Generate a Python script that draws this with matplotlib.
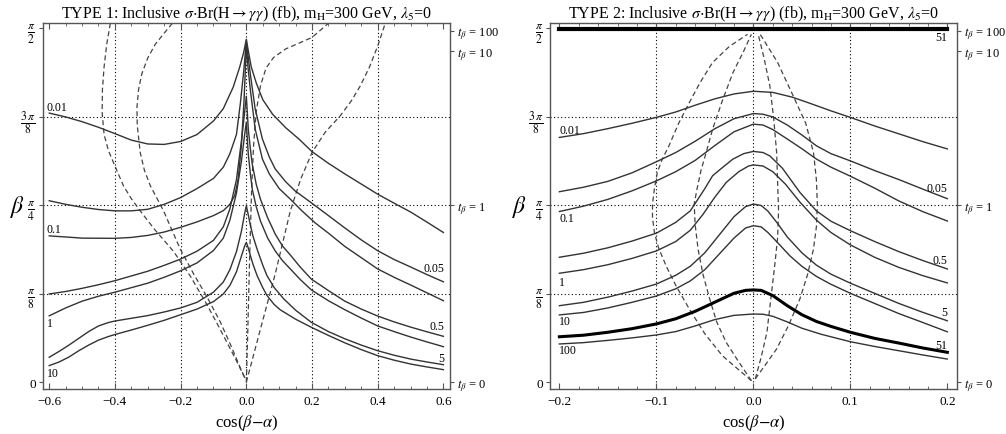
import numpy as np
import matplotlib
matplotlib.use("Agg")
import matplotlib.pyplot as plt

plt.rcParams['font.family'] = ['Liberation Serif', 'DejaVu Serif']
plt.rcParams['mathtext.fontset'] = 'stix'

# ---------------- TYPE 1 panel: contours of sigma*Br, x = cos(b-a), y = beta
t1_001_x = [-0.6, -0.55, -0.5, -0.45, -0.4, -0.35, -0.3, -0.25, -0.2, -0.15, -0.1, -0.07, -0.04, -0.02, -0.008, 0.0,
            0.005, 0.015, 0.03, 0.05, 0.08, 0.12, 0.16, 0.2, 0.25, 0.3, 0.35, 0.4, 0.45, 0.5, 0.55, 0.6]
t1_001_y = [1.195, 1.178, 1.157, 1.132, 1.104, 1.075, 1.058, 1.056, 1.069, 1.100, 1.160, 1.215, 1.310, 1.400, 1.465, 1.523,
            1.480, 1.400, 1.330, 1.255, 1.190, 1.130, 1.080, 1.024, 0.972, 0.925, 0.880, 0.835, 0.795, 0.756, 0.711, 0.665]
t1_005_x = [-0.6, -0.55, -0.5, -0.45, -0.4, -0.35, -0.3, -0.25, -0.2, -0.15, -0.1, -0.07, -0.05, -0.03, -0.018, -0.008, 0.0,
            0.006, 0.012, 0.027, 0.049, 0.07, 0.088, 0.12, 0.149, 0.195, 0.25, 0.3, 0.35, 0.4, 0.45, 0.5, 0.55, 0.6]
t1_005_y = [0.806, 0.790, 0.777, 0.767, 0.761, 0.761, 0.768, 0.790, 0.820, 0.860, 0.905, 0.955, 1.015, 1.100, 1.240, 1.380, 1.514,
            1.440, 1.370, 1.213, 1.080, 1.000, 0.947, 0.890, 0.849, 0.800, 0.740, 0.685, 0.632, 0.584, 0.545, 0.512, 0.478, 0.446]
t1_01_x = [-0.6, -0.5, -0.4, -0.35, -0.3, -0.25, -0.2, -0.15, -0.1, -0.07, -0.05, -0.035, -0.025, -0.015, -0.007, -0.002, 0.0,
           0.005, 0.012, 0.027, 0.049, 0.07, 0.1, 0.134, 0.17, 0.21, 0.25, 0.3, 0.35, 0.4, 0.45, 0.5, 0.55, 0.6]
t1_01_y = [0.650, 0.640, 0.639, 0.643, 0.652, 0.667, 0.688, 0.712, 0.740, 0.762, 0.790, 0.830, 0.900, 1.050, 1.250, 1.420, 1.497,
           1.400, 1.301, 1.124, 0.991, 0.925, 0.860, 0.813, 0.760, 0.707, 0.662, 0.603, 0.553, 0.503, 0.466, 0.432, 0.397, 0.362]
t1_05_x = [-0.6, -0.55, -0.5, -0.45, -0.4, -0.35, -0.3, -0.25, -0.2, -0.15, -0.1, -0.07, -0.05, -0.03, -0.015, -0.005, 0.0,
           0.003, 0.006, 0.012, 0.018, 0.03, 0.043, 0.065, 0.088, 0.11, 0.134, 0.165, 0.198, 0.25, 0.3, 0.35, 0.4, 0.45, 0.5, 0.55, 0.6]
t1_05_y = [0.392, 0.403, 0.417, 0.433, 0.451, 0.472, 0.493, 0.519, 0.547, 0.582, 0.630, 0.690, 0.770, 0.900, 1.070, 1.200, 1.270,
           1.200, 1.124, 1.040, 0.969, 0.880, 0.813, 0.730, 0.658, 0.605, 0.565, 0.510, 0.458, 0.407, 0.360, 0.325, 0.294, 0.268, 0.245, 0.224, 0.204]
t1_1_x = [-0.6, -0.55, -0.5, -0.45, -0.4, -0.35, -0.3, -0.25, -0.2, -0.15, -0.1, -0.07, -0.05, -0.03, -0.015, -0.005, 0.0,
          0.003, 0.006, 0.012, 0.018, 0.03, 0.043, 0.065, 0.088, 0.11, 0.134, 0.165, 0.198, 0.25, 0.3, 0.35, 0.4, 0.45, 0.5, 0.55, 0.6]
t1_1_y = [0.295, 0.330, 0.360, 0.382, 0.400, 0.420, 0.440, 0.466, 0.495, 0.530, 0.585, 0.640, 0.720, 0.840, 0.980, 1.100, 1.154,
          1.080, 1.013, 0.930, 0.858, 0.780, 0.716, 0.640, 0.583, 0.540, 0.503, 0.455, 0.410, 0.362, 0.322, 0.285, 0.250, 0.225, 0.201, 0.179, 0.158]
t1_5_x = [-0.6, -0.57, -0.54, -0.51, -0.48, -0.45, -0.42, -0.4, -0.35, -0.3, -0.25, -0.2, -0.15, -0.1, -0.07, -0.05, -0.03, -0.015, -0.005, 0.0,
          0.005, 0.012, 0.02, 0.033, 0.05, 0.063, 0.085, 0.114, 0.15, 0.198, 0.25, 0.3, 0.35, 0.4, 0.45, 0.5, 0.55, 0.6]
t1_5_y = [0.111, 0.137, 0.165, 0.195, 0.225, 0.250, 0.265, 0.272, 0.284, 0.296, 0.312, 0.330, 0.355, 0.400, 0.445, 0.500, 0.580, 0.670, 0.750, 0.784,
          0.750, 0.700, 0.650, 0.590, 0.520, 0.473, 0.420, 0.370, 0.320, 0.266, 0.225, 0.193, 0.165, 0.140, 0.120, 0.103, 0.090, 0.078]
t1_10_x = [-0.6, -0.57, -0.54, -0.51, -0.48, -0.45, -0.42, -0.4, -0.35, -0.3, -0.25, -0.2, -0.15, -0.1, -0.07, -0.05, -0.03, -0.015, -0.005, 0.0,
           0.005, 0.012, 0.02, 0.033, 0.05, 0.063, 0.085, 0.103, 0.15, 0.198, 0.25, 0.3, 0.35, 0.4, 0.45, 0.5, 0.55, 0.6]
t1_10_y = [0.074, 0.090, 0.112, 0.140, 0.165, 0.187, 0.203, 0.212, 0.232, 0.253, 0.275, 0.300, 0.325, 0.358, 0.392, 0.430, 0.490, 0.560, 0.605, 0.621,
           0.600, 0.565, 0.525, 0.473, 0.420, 0.385, 0.345, 0.322, 0.280, 0.244, 0.208, 0.175, 0.145, 0.118, 0.098, 0.081, 0.068, 0.056]

# dashed curves, TYPE 1
t1_d1_x = [-0.414, -0.425, -0.433, -0.438, -0.439, -0.433, -0.420, -0.400, -0.374, -0.350, -0.323, -0.280, -0.221, -0.170, -0.120, -0.085, -0.059, -0.030, -0.003]
t1_d1_y = [1.594, 1.500, 1.400, 1.300, 1.200, 1.100, 1.030, 0.960, 0.872, 0.815, 0.761, 0.680, 0.580, 0.470, 0.345, 0.250, 0.177, 0.095, 0.015]
t1_d2_x = [-0.225, -0.250, -0.277, -0.300, -0.318, -0.328, -0.333, -0.332, -0.323, -0.310, -0.292, -0.252, -0.201, -0.160, -0.120, -0.080, -0.049, -0.020, -0.003]
t1_d2_y = [1.594, 1.550, 1.501, 1.440, 1.370, 1.300, 1.220, 1.140, 1.020, 0.940, 0.872, 0.761, 0.591, 0.480, 0.380, 0.270, 0.170, 0.070, 0.015]
t1_d3_x = [0.0, 0.043, 0.088, 0.134, 0.165, 0.200, 0.240, 0.286, 0.320, 0.347, 0.375, 0.400, 0.423]
t1_d3_y = [0.0, 0.236, 0.481, 0.761, 0.900, 1.020, 1.110, 1.183, 1.250, 1.316, 1.400, 1.493, 1.594]
t1_d4_x = [0.0, 0.004, 0.010, 0.016, 0.022, 0.030, 0.043, 0.060, 0.083, 0.120, 0.164, 0.200, 0.235, 0.250]
t1_d4_y = [0.0, 0.200, 0.550, 0.850, 1.050, 1.200, 1.316, 1.395, 1.442, 1.480, 1.508, 1.531, 1.575, 1.594]

# contour labels TYPE 1: (text, x, y, ha)
t1_labels = [("0.01", -0.607, 1.224, "left"), ("0.1", -0.607, 0.680, "left"),
             ("1", -0.607, 0.263, "left"), ("10", -0.607, 0.043, "left"),
             ("0.05", 0.603, 0.507, "right"), ("0.5", 0.603, 0.252, "right"),
             ("5", 0.603, 0.108, "right")]

# ---------------- TYPE 2 panel
t2_001_x = [-0.2, -0.175, -0.15, -0.125, -0.1, -0.08, -0.06, -0.04, -0.02, 0.0, 0.02, 0.04, 0.06, 0.08, 0.1, 0.125, 0.15, 0.175, 0.2]
t2_001_y = [1.087, 1.104, 1.126, 1.150, 1.176, 1.200, 1.230, 1.258, 1.280, 1.292, 1.287, 1.266, 1.236, 1.205, 1.176, 1.138, 1.103, 1.068, 1.036]
t2_005_x = [-0.2, -0.175, -0.15, -0.125, -0.1, -0.08, -0.06, -0.04, -0.02, 0.0, 0.01, 0.02, 0.035, 0.05, 0.065, 0.08, 0.1, 0.125, 0.15, 0.175, 0.2]
t2_005_y = [0.846, 0.866, 0.892, 0.930, 0.979, 1.020, 1.070, 1.125, 1.170, 1.193, 1.190, 1.178, 1.142, 1.098, 1.050, 1.015, 0.983, 0.940, 0.900, 0.857, 0.815]
t2_01_x = [-0.2, -0.175, -0.15, -0.125, -0.1, -0.08, -0.06, -0.04, -0.02, 0.0, 0.01, 0.02, 0.035, 0.05, 0.065, 0.08, 0.1, 0.125, 0.15, 0.175, 0.2]
t2_01_y = [0.758, 0.782, 0.812, 0.850, 0.894, 0.935, 0.985, 1.050, 1.112, 1.146, 1.142, 1.122, 1.080, 1.037, 0.991, 0.955, 0.915, 0.862, 0.805, 0.757, 0.716]
t2_05_x = [-0.2, -0.175, -0.15, -0.125, -0.1, -0.08, -0.065, -0.05, -0.042, -0.03, -0.021, -0.01, 0.0,
           0.01, 0.017, 0.03, 0.048, 0.065, 0.08, 0.1, 0.125, 0.15, 0.175, 0.2]
t2_05_y = [0.555, 0.573, 0.597, 0.627, 0.662, 0.710, 0.761, 0.860, 0.917, 0.960, 0.991, 1.015, 1.025,
           1.020, 1.005, 0.950, 0.843, 0.761, 0.715, 0.673, 0.625, 0.580, 0.540, 0.503]
t2_1_x = [-0.2, -0.175, -0.15, -0.125, -0.1, -0.08, -0.065, -0.052, -0.04, -0.028, -0.015, -0.005, 0.0,
          0.01, 0.02, 0.033, 0.048, 0.065, 0.08, 0.1, 0.125, 0.15, 0.175, 0.2]
t2_1_y = [0.484, 0.500, 0.522, 0.550, 0.583, 0.625, 0.675, 0.745, 0.820, 0.887, 0.935, 0.960, 0.965,
          0.960, 0.935, 0.880, 0.800, 0.720, 0.665, 0.610, 0.555, 0.510, 0.473, 0.441]
t2_5_x = [-0.2, -0.175, -0.15, -0.125, -0.1, -0.08, -0.065, -0.05, -0.035, -0.02, -0.008, 0.0,
          0.008, 0.015, 0.025, 0.035, 0.05, 0.065, 0.08, 0.1, 0.125, 0.15, 0.175, 0.2]
t2_5_y = [0.340, 0.355, 0.378, 0.405, 0.436, 0.475, 0.515, 0.575, 0.655, 0.735, 0.780, 0.791,
          0.785, 0.760, 0.705, 0.645, 0.575, 0.520, 0.480, 0.440, 0.395, 0.350, 0.310, 0.273]
t2_10_x = [-0.2, -0.175, -0.15, -0.125, -0.1, -0.08, -0.065, -0.05, -0.035, -0.02, -0.008, 0.0,
           0.008, 0.015, 0.025, 0.038, 0.05, 0.065, 0.08, 0.1, 0.125, 0.15, 0.175, 0.2]
t2_10_y = [0.299, 0.310, 0.330, 0.355, 0.383, 0.415, 0.450, 0.500, 0.570, 0.640, 0.685, 0.695,
           0.690, 0.665, 0.620, 0.560, 0.515, 0.470, 0.435, 0.395, 0.350, 0.305, 0.265, 0.224]
t2_51_x = [-0.2, -0.175, -0.15, -0.125, -0.1, -0.08, -0.06, -0.04, -0.02, -0.008, 0.0, 0.008, 0.02, 0.035, 0.05, 0.065, 0.08, 0.1, 0.125, 0.15, 0.175, 0.2]
t2_51_y = [0.202, 0.209, 0.222, 0.238, 0.259, 0.282, 0.315, 0.355, 0.395, 0.408, 0.410, 0.408, 0.385, 0.340, 0.300, 0.270, 0.248, 0.222, 0.195, 0.174, 0.152, 0.133]
t2_100_x = [-0.2, -0.175, -0.15, -0.125, -0.1, -0.08, -0.06, -0.04, -0.02, 0.0, 0.01, 0.02, 0.035, 0.05, 0.07, 0.1, 0.125, 0.15, 0.175, 0.2]
t2_100_y = [0.170, 0.176, 0.186, 0.197, 0.210, 0.225, 0.250, 0.278, 0.297, 0.303, 0.302, 0.293, 0.268, 0.240, 0.213, 0.180, 0.159, 0.140, 0.121, 0.103]
t2_51top_x = [-0.2, 0.2]
t2_51top_y = [1.567, 1.567]

# dashed curves, TYPE 2
t2_d1_x = [-0.002, -0.015, -0.032, -0.050, -0.066, -0.080, -0.090, -0.098, -0.102, -0.104, -0.104, -0.102, -0.099, -0.094, -0.087, -0.077, -0.066, -0.055, -0.042, -0.025, -0.006]
t2_d1_y = [0.007, 0.055, 0.118, 0.215, 0.325, 0.430, 0.517, 0.600, 0.665, 0.730, 0.791, 0.860, 0.932, 0.990, 1.050, 1.150, 1.242, 1.330, 1.420, 1.490, 1.545]
t2_d2_x = [-0.002, -0.015, -0.028, -0.038, -0.045, -0.052, -0.057, -0.060, -0.061, -0.058, -0.054, -0.048, -0.042, -0.032, -0.021, -0.010, -0.002]
t2_d2_y = [0.007, 0.090, 0.177, 0.270, 0.370, 0.480, 0.591, 0.700, 0.791, 0.860, 0.940, 1.030, 1.124, 1.250, 1.375, 1.470, 1.545]
t2_d3_x = [0.002, 0.008, 0.014, 0.018, 0.022, 0.025, 0.026, 0.025, 0.024, 0.021, 0.017, 0.011, 0.005]
t2_d3_y = [0.015, 0.110, 0.222, 0.370, 0.517, 0.640, 0.761, 0.890, 1.020, 1.170, 1.316, 1.440, 1.545]
t2_d4_x = [0.002, 0.012, 0.024, 0.036, 0.048, 0.056, 0.062, 0.065, 0.066, 0.065, 0.062, 0.054, 0.041, 0.025, 0.007]
t2_d4_y = [0.015, 0.075, 0.148, 0.250, 0.370, 0.480, 0.591, 0.690, 0.791, 0.900, 1.020, 1.150, 1.272, 1.420, 1.545]

t2_labels = [("0.01", -0.2, 1.122, "left"), ("0.1", -0.2, 0.729, "left"),
             ("1", -0.2, 0.447, "left"), ("10", -0.2, 0.272, "left"),
             ("100", -0.2, 0.143, "left"), ("51", 0.2, 1.534, "right"),
             ("0.05", 0.2, 0.862, "right"), ("0.5", 0.2, 0.543, "right"),
             ("5", 0.2, 0.310, "right"), ("51", 0.2, 0.165, "right")]

# ticks
beta_ticks = [0, np.pi / 8, np.pi / 4, 3 * np.pi / 8, np.pi / 2]
beta_ticklabels = ["0", r"$\frac{\pi}{8}$", r"$\frac{\pi}{4}$", r"$\frac{3\,\pi}{8}$", r"$\frac{\pi}{2}$"]
tb_values = [0, 1, 10, 100]
tb_labels = [r"$t_\beta$ = 0", r"$t_\beta$ = 1", r"$t_\beta$ = 10", r"$t_\beta$ = 100"]
t1_xticks = [-0.6, -0.4, -0.2, 0.0, 0.2, 0.4, 0.6]
t1_xticklabels = ["\u22120.6", "\u22120.4", "\u22120.2", "0.0", "0.2", "0.4", "0.6"]
t2_xticks = [-0.2, -0.1, 0.0, 0.1, 0.2]
t2_xticklabels = ["\u22120.2", "\u22120.1", "0.0", "0.1", "0.2"]

solid_col = "#333333"
dash_col = "#444444"
frame_col = "#555555"


def style_panel(ax, xlim, xticks, xticklabels, minor_step, xgrid, title, ylab_x):
    ax.set_xlim(*xlim)
    ax.set_ylim(-0.03, 1.595)
    ax.set_xticks(xticks)
    ax.set_xticklabels(xticklabels, fontsize=9.5)
    ax.set_xticks(np.arange(xticks[0], xticks[-1] + 1e-9, minor_step), minor=True)
    ax.set_yticks(beta_ticks)
    ax.set_yticklabels(beta_ticklabels)
    for i, lab in enumerate(ax.get_yticklabels()):
        lab.set_fontsize(9.5 if i == 0 else 12)
    ax.tick_params(axis="x", which="both", direction="in", top=True, bottom=True, color=frame_col)
    ax.tick_params(axis="x", which="major", length=4.5, width=0.8, pad=4)
    ax.tick_params(axis="x", which="minor", length=2.5, width=0.6)
    ax.tick_params(axis="y", direction="out", length=3, width=0.8, color=frame_col, pad=2)
    for s in ax.spines.values():
        s.set_color(frame_col)
        s.set_linewidth(1.0)
    for gx in xgrid:
        ax.axvline(gx, color="black", lw=0.8, ls=(0, (1, 2.2)), zorder=1)
    for gy in beta_ticks[1:4]:
        ax.axhline(gy, color="black", lw=0.8, ls=(0, (1, 2.2)), zorder=1)
    ax.set_title(title, fontsize=11.5, pad=4)
    ax.set_xlabel(r"cos($\beta$$-$$\alpha$)", fontsize=12, labelpad=4)
    ax.set_ylabel(r"$\beta$", fontsize=17, rotation=0, va="center", ha="center")
    ax.yaxis.set_label_coords(ylab_x, 0.5)
    axr = ax.twinx()
    axr.set_ylim(ax.get_ylim())
    axr.set_yticks(np.arctan(tb_values))
    axr.set_yticklabels(tb_labels, fontsize=9)
    axr.tick_params(axis="y", direction="out", length=3, width=0.8, color=frame_col, pad=2)
    for s in axr.spines.values():
        s.set_visible(False)
    return axr


fig = plt.figure(figsize=(10.06, 4.35), dpi=100)
ax1 = fig.add_axes([0.0424, 0.1034, 0.4049, 0.8414])
ax2 = fig.add_axes([0.5467, 0.1034, 0.4049, 0.8414])

style_panel(ax1, (-0.62, 0.62), t1_xticks, t1_xticklabels, 0.05, [-0.4, -0.2, 0.0, 0.2, 0.4],
            r"TYPE 1: Inclusive $\sigma$$\cdot$Br(H$\rightarrow$$\gamma\gamma$) (fb), m$_{\rm H}$=300 GeV, $\lambda_5$=0", -0.062)
style_panel(ax2, (-0.2097, 0.2103), t2_xticks, t2_xticklabels, 0.02, [-0.1, 0.0, 0.1],
            r"TYPE 2: Inclusive $\sigma$$\cdot$Br(H$\rightarrow$$\gamma\gamma$) (fb), m$_{\rm H}$=300 GeV, $\lambda_5$=0", -0.075)

t1_solid = [(t1_001_x, t1_001_y), (t1_005_x, t1_005_y), (t1_01_x, t1_01_y), (t1_05_x, t1_05_y),
            (t1_1_x, t1_1_y), (t1_5_x, t1_5_y), (t1_10_x, t1_10_y)]
for xs, ys in t1_solid:
    ax1.plot(xs, ys, color=solid_col, lw=1.0, zorder=3, solid_joinstyle="round")
for xs, ys in [(t1_d1_x, t1_d1_y), (t1_d2_x, t1_d2_y), (t1_d3_x, t1_d3_y), (t1_d4_x, t1_d4_y)]:
    ax1.plot(xs, ys, color=dash_col, lw=0.9, ls=(0, (4, 2.5)), zorder=2)
for txt, x, y, ha in t1_labels:
    ax1.text(x, y, txt, fontsize=8.5, ha=ha, va="center", zorder=4)

t2_solid = [(t2_001_x, t2_001_y), (t2_005_x, t2_005_y), (t2_01_x, t2_01_y), (t2_05_x, t2_05_y),
            (t2_1_x, t2_1_y), (t2_5_x, t2_5_y), (t2_10_x, t2_10_y), (t2_100_x, t2_100_y)]
for xs, ys in t2_solid:
    ax2.plot(xs, ys, color=solid_col, lw=1.0, zorder=3, solid_joinstyle="round")
ax2.plot(t2_51_x, t2_51_y, color="black", lw=2.2, zorder=3, solid_joinstyle="round")
ax2.plot(t2_51top_x, t2_51top_y, color="black", lw=3.0, zorder=3)
for xs, ys in [(t2_d1_x, t2_d1_y), (t2_d2_x, t2_d2_y), (t2_d3_x, t2_d3_y), (t2_d4_x, t2_d4_y)]:
    ax2.plot(xs, ys, color=dash_col, lw=0.9, ls=(0, (4, 2.5)), zorder=2)
for txt, x, y, ha in t2_labels:
    ax2.text(x, y, txt, fontsize=8.5, ha=ha, va="center", zorder=4)

fig.savefig("out.png", dpi=100)
